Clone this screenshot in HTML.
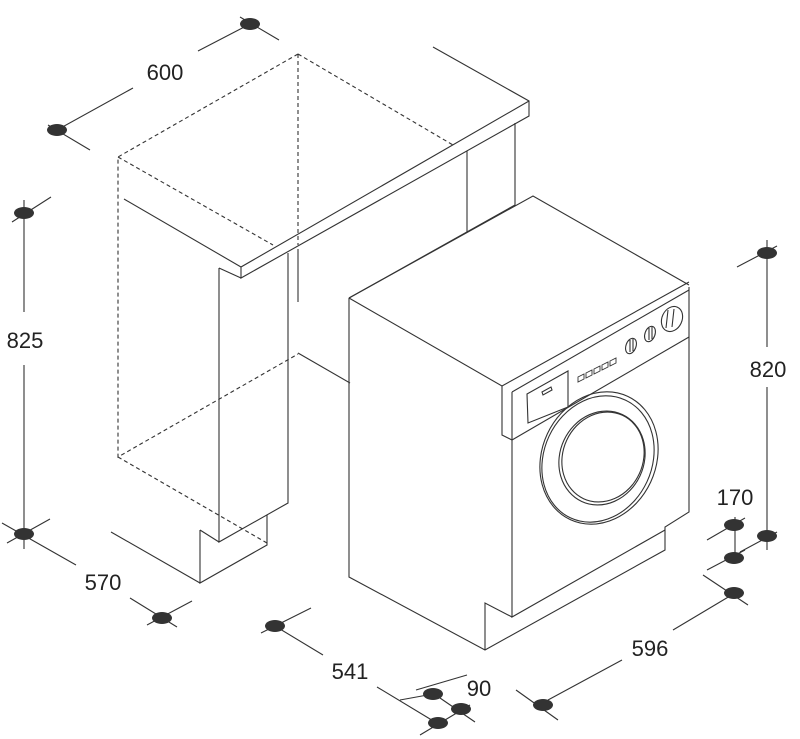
<!DOCTYPE html>
<html><head><meta charset="utf-8"><style>
html,body{margin:0;padding:0;background:#fff;width:800px;height:739px;overflow:hidden}
svg{display:block}
text{font-family:"Liberation Sans",sans-serif;font-size:22px;fill:#222;text-anchor:middle}
</style></head><body>
<svg width="800" height="739" viewBox="0 0 800 739" xmlns="http://www.w3.org/2000/svg">
<g stroke="#333" stroke-width="1.1" fill="none">
<!-- cabinet dashed -->
<g stroke-dasharray="4,3">
<path d="M298,54 L118,157 L118,457 L298,354"/>
<path d="M118,157 L273,245"/>
<path d="M298,54 L453,145"/>
<path d="M298,54 L298,245"/>
<path d="M118,457 L267,543"/>
</g>
<!-- countertop -->
<path d="M433,47 L529,101 L529,116 L241,278 L241,267 L529,101"/>
<path d="M124,199 L241,267"/>
<path d="M219,268 L241,278"/>
<path d="M298,249 L298,302"/>
<path d="M219,268 L219,542 L288,503 L288,253"/>
<path d="M467,151 L467,232"/>
<path d="M515,123 L515,205 L349,298"/>
<path d="M298,353 L350,383"/>
<path d="M200,530 L219,542"/>
<path d="M200,530 L200,583 L267,545 L267,515"/>
<path d="M111,532 L200,583"/>
<!-- washer -->
<path d="M349,298 L533,196 L689,285"/>
<path d="M349,298 L349,577 L485,650 L665,550 L665,527 L689,512 L689,287"/>
<path d="M349,298 L502,386 L689,282"/>
<path d="M502,386 L502,435 L512,440"/>
<path d="M512,392 L689,290"/>
<path d="M512,392 L512,617 L665,530"/>
<path d="M512,440 L689,337"/>
<path d="M485,650 L485,603 L512,617"/>
<!-- drawer -->
<path d="M527,394 L568,371 L568,407 L528,423 Z"/>
<path d="M542,392 L551,387 L552,390 L543,395 Z"/>
<!-- buttons -->
<g stroke-width="0.9">
<path d="M578,377 l6,-3 v5 l-6,3 z"/>
<path d="M586,373 l6,-3 v5 l-6,3 z"/>
<path d="M594,369 l6,-3 v5 l-6,3 z"/>
<path d="M602,365 l6,-3 v5 l-6,3 z"/>
<path d="M610,361 l6,-3 v5 l-6,3 z"/>
</g>
<ellipse cx="631" cy="346" rx="5" ry="8" transform="rotate(20 631 346)"/>
<path d="M630,340 L630,352 M633,339 L633,351"/>
<ellipse cx="650" cy="334" rx="5" ry="8" transform="rotate(20 650 334)"/>
<path d="M649,328 L649,340 M652,327 L652,339"/>
<ellipse cx="672" cy="319" rx="10" ry="13" transform="rotate(25 672 319)"/>
<path d="M668,310 L666,328 M674,309 L672,327"/>
<!-- door -->
<ellipse cx="599" cy="458" rx="57" ry="68" transform="rotate(25 599 458)"/>
<ellipse cx="598" cy="459" rx="54" ry="65" transform="rotate(25 598 459)"/>
<ellipse cx="602" cy="458" rx="42" ry="48" transform="rotate(25 602 458)"/>
<ellipse cx="603" cy="457" rx="40" ry="46" transform="rotate(25 603 457)"/>
<!-- dimension lines -->
<path d="M57,130 L133,88 M198,51 L250,24 M240,17 L279,40 M48,125 L90,150"/>
<path d="M24,200 L24,312 M24,365 L24,549 M12,222 L51,197 M7,543 L50,519 M2,523 L76,565 M130,598 L177,627 M147,625 L192,601"/>
<path d="M261,633 L311,608 M275,626 L323,655 M377,687 L435,722 M416,690 L467,675 M400,700 L433,694 M440,698 L475,722 M420,735 L470,705"/>
<path d="M516,690 L558,720 M548,700 L622,660 M673,630 L735,593 M703,575 L748,605"/>
<path d="M767,240 L767,347 M767,387 L767,550 M737,267 L777,246 M740,552 L777,532"/>
<path d="M735,517 L735,562 M707,540 L745,518 M707,570 L745,550"/>
</g>
<g fill="#333">
<ellipse cx="250" cy="24" rx="10" ry="6"/>
<ellipse cx="57" cy="130" rx="10" ry="6"/>
<ellipse cx="24" cy="213" rx="10" ry="6"/>
<ellipse cx="24" cy="534" rx="10" ry="6"/>
<ellipse cx="162" cy="618" rx="10" ry="6"/>
<ellipse cx="275" cy="626" rx="10" ry="6"/>
<ellipse cx="433" cy="694" rx="10" ry="6"/>
<ellipse cx="461" cy="709" rx="10" ry="6"/>
<ellipse cx="438" cy="723" rx="10" ry="6"/>
<ellipse cx="543" cy="705" rx="10" ry="6"/>
<ellipse cx="734" cy="593" rx="10" ry="6"/>
<ellipse cx="767" cy="253" rx="10" ry="6"/>
<ellipse cx="767" cy="536" rx="10" ry="6"/>
<ellipse cx="734" cy="525" rx="10" ry="6"/>
<ellipse cx="734" cy="558" rx="10" ry="6"/>
</g>
<text x="165" y="80">600</text>
<text x="25" y="348">825</text>
<text x="103" y="590">570</text>
<text x="350" y="679">541</text>
<text x="479" y="696">90</text>
<text x="650" y="656">596</text>
<text x="768" y="377">820</text>
<text x="735" y="505">170</text>
</svg>
</body></html>
